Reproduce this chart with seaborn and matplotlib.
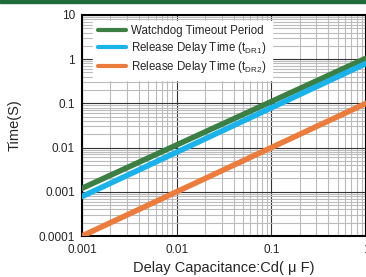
import numpy as np
import pandas as pd
import seaborn as sns
import matplotlib.pyplot as plt
from matplotlib.ticker import LogLocator, NullFormatter

sns.set_style("white")
plt.rcParams['font.family'] = ['Liberation Sans', 'DejaVu Sans']

cd = [0.001, 1.0]
watchdog = [0.0012, 1.05]
tdr1 = [0.00078, 0.8]
tdr2 = [0.0001, 0.1]
labels = ['Watchdog Timeout Period',
          r'Release Delay Time (t$_{\mathregular{DR1}}$)',
          r'Release Delay Time (t$_{\mathregular{DR2}}$)']
colors = ['#3b7f45', '#19b2ea', '#ec7c3c']

df = pd.DataFrame({
    'cd': cd * 3,
    'time': watchdog + tdr1 + tdr2,
    'series': [labels[0]] * 2 + [labels[1]] * 2 + [labels[2]] * 2,
})

fig = plt.figure(figsize=(3.66, 2.77), dpi=100)
ax = fig.add_axes([0.224, 0.148, 0.776, 0.798])

sns.lineplot(data=df, x='cd', y='time', hue='series', palette=colors,
             linewidth=4, ax=ax, zorder=3, legend=True)

ax.set_xscale('log')
ax.set_yscale('log')
ax.set_xlim(0.001, 1)
ax.set_ylim(0.0001, 10)
ax.set_xticks([0.001, 0.01, 0.1, 1])
ax.set_xticklabels(['0.001', '0.01', '0.1', '1'])
ax.set_yticks([0.0001, 0.001, 0.01, 0.1, 1, 10])
ax.set_yticklabels(['0.0001', '0.001', '0.01', '0.1', '1', '10'])
ax.xaxis.set_minor_locator(LogLocator(base=10, subs=np.arange(2, 10)))
ax.yaxis.set_minor_locator(LogLocator(base=10, subs=np.arange(2, 10)))
ax.xaxis.set_minor_formatter(NullFormatter())
ax.yaxis.set_minor_formatter(NullFormatter())
ax.grid(which='major', color='#333333', linewidth=0.8)
ax.grid(which='minor', color='#bbbbbb', linewidth=0.8)
ax.tick_params(which='both', length=0, labelsize=8.5)
ax.tick_params(axis='x', pad=6)
ax.tick_params(axis='y', pad=5)
for s in ax.spines.values():
    s.set_color('black')
    s.set_linewidth(1.5)

ax.set_xlabel('Delay Capacitance:Cd( μ F)', fontsize=10.5, labelpad=3)
ax.set_ylabel('Time(S)', fontsize=10.5, labelpad=12)

leg = ax.legend(loc='upper left', fontsize=8.3, frameon=True, fancybox=False,
                framealpha=1, edgecolor='white', borderaxespad=0.5,
                bbox_to_anchor=(0.02, 1.0), handletextpad=0.5,
                handlelength=2.4, labelspacing=0.25)
for line in leg.get_lines():
    line.set_linewidth(3)

fig.add_artist(plt.Rectangle((0, 0.99), 1, 0.01, color='#1f6b3a',
                             transform=fig.transFigure))

fig.savefig('out.png', dpi=100)
